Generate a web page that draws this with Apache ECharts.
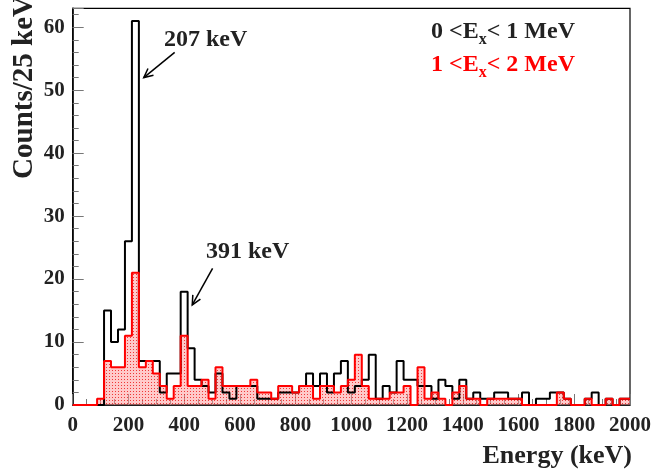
<!DOCTYPE html>
<html><head><meta charset="utf-8">
<script src="https://cdn.jsdelivr.net/npm/echarts@6/dist/echarts.min.js"></script>
<style>html,body{margin:0;padding:0;background:#fff}#c{width:654px;height:474px}</style>
</head><body><div id="c"></div>
<script>
// Bin centres (keV), 25 keV bins
const binCenters = [0,25,50,75,100,125,150,175,200,225,250,275,300,325,350,375,400,425,450,475,
  500,525,550,575,600,625,650,675,700,725,750,775,800,825,850,875,900,925,950,975,
  1000,1025,1050,1075,1100,1125,1150,1175,1200,1225,1250,1275,1300,1325,1350,1375,1400,1425,1450,1475,
  1500,1525,1550,1575,1600,1625,1650,1675,1700,1725,1750,1775,1800,1825,1850,1875,1900,1925,1950,1975,2000];
// 0 < Ex < 1 MeV
const countsEx01 = [0,0,0,0,0,15,10,12,26,61, 7,7,7,2,5,5,18,9,4,3, 2,5,2,1,3,3,3,1,1,1,
  2,2,2,3,5,3,5,2,5,7, 2,3,4,8,1,3,2,7,4,4, 3,3,1,4,3,1,4,1,2,1, 1,2,2,1,1,2,0,1,1,2,
  2,1,0,0,1,2,0,1,0,1, 1];
// 1 < Ex < 2 MeV
const countsEx12 = [0,0,0,0,1,7,6,6,11,21, 6,7,5,3,1,3,11,3,3,4, 1,6,3,3,3,3,4,2,2,1,
  3,3,2,3,3,1,3,3,2,3, 4,8,3,1,1,1,2,2,3,0, 6,1,2,1,0,2,3,1,1,0, 1,1,1,1,1,0,0,0,0,0,
  2,1,0,0,1,0,0,1,0,1, 1];
const xTickLabels = [0,200,400,600,800,1000,1200,1400,1600,1800,2000];
const yTickLabels = [0,10,20,30,40,50,60];
// Peak annotations: label, arrow tail [keV, counts], arrow head [keV, counts]
const annotations = [
  {label:'207 keV', tail:[366,56], head:[255,52]},
  {label:'391 keV', tail:[502,21.7], head:[429,15.9]}
];

const FONT = '"Liberation Serif","Times New Roman",serif';
const pairs = arr => binCenters.map((c,i)=>[c, arr[i]]);

// dotted pink fill pattern
const pc = document.createElement('canvas'); pc.width = 3; pc.height = 3;
const pctx = pc.getContext('2d');
pctx.fillStyle = 'rgba(255,150,150,0.5)'; pctx.fillRect(0,0,3,3);
pctx.fillStyle = 'rgba(235,20,20,0.8)'; pctx.fillRect(1,1,1,1);

const chart = echarts.init(document.getElementById('c'), null, {renderer:'canvas'});
const lab = {fontFamily:FONT, fontWeight:'bold', fontSize:21, color:'#222'};
const option = {
  animation:false,
  grid:{left:72.7, right:21.7, top:8.3, bottom:69, show:true, borderColor:'#000', borderWidth:1.2},
  xAxis:[
    {type:'value', min:0, max:2000, interval:200,
     axisLine:{show:true, onZero:false, lineStyle:{color:'#000', width:1.5}},
     axisTick:{show:true, inside:true, length:11, lineStyle:{color:'#777', width:1}},
     axisLabel:Object.assign({margin:10, formatter:v=>xTickLabels.includes(v)?String(v):''}, lab),
     splitLine:{show:false}},
    {type:'value', min:0, max:2000, interval:50, position:'bottom',
     axisLine:{show:false}, axisLabel:{show:false}, splitLine:{show:false},
     axisTick:{show:true, inside:true, length:6, lineStyle:{color:'#777', width:1}}}
  ],
  yAxis:[
    {type:'value', min:0, max:63, interval:10,
     axisLine:{show:true, onZero:false, lineStyle:{color:'#000', width:1.5}},
     axisTick:{show:true, inside:true, length:11, lineStyle:{color:'#777', width:1}},
     axisLabel:Object.assign({margin:8, padding:[5,0,0,0], formatter:v=>yTickLabels.includes(v)?String(v):''}, lab),
     splitLine:{show:false}},
    {type:'value', min:0, max:63, interval:2, position:'left',
     axisLine:{show:false}, axisLabel:{show:false}, splitLine:{show:false},
     axisTick:{show:true, inside:true, length:6, lineStyle:{color:'#777', width:1}}}
  ],
  series:[
    {name:'1 < Ex < 2 MeV fill', type:'line', step:'middle', data:pairs(countsEx12), symbol:'none',
     lineStyle:{width:0, opacity:0}, areaStyle:{color:{image:pc, repeat:'repeat'}, opacity:1}, z:1},
    {name:'0 < Ex < 1 MeV', type:'line', step:'middle', data:pairs(countsEx01), symbol:'none',
     lineStyle:{color:'#000', width:2}, z:2},
    {name:'1 < Ex < 2 MeV', type:'line', step:'middle', data:pairs(countsEx12), symbol:'none',
     lineStyle:{color:'#ff0000', width:2}, z:3}
  ]
};
chart.setOption(option);

// annotations and legend text
const g = [];
const meas = document.createElement('canvas').getContext('2d');
function tw(t, size){ meas.font = 'bold '+size+'px '+FONT; return meas.measureText(t).width; }
const labelPos = [[164,40],[206,252]];
annotations.forEach((a,i)=>{
  const p0 = chart.convertToPixel({gridIndex:0}, a.tail);
  const p1 = chart.convertToPixel({gridIndex:0}, a.head);
  const ang = Math.atan2(p1[1]-p0[1], p1[0]-p0[0]);
  const L = 10, sp = 0.45;
  g.push({type:'line', shape:{x1:p0[0],y1:p0[1],x2:p1[0],y2:p1[1]}, style:{stroke:'#000', lineWidth:1.5}, z:10});
  g.push({type:'polyline', shape:{points:[
    [p1[0]-L*Math.cos(ang-sp), p1[1]-L*Math.sin(ang-sp)], p1,
    [p1[0]-L*Math.cos(ang+sp), p1[1]-L*Math.sin(ang+sp)]]}, style:{stroke:'#000', lineWidth:1.5, fill:null}, z:10});
  g.push({type:'text', x:labelPos[i][0], y:labelPos[i][1], style:{text:a.label, font:'bold 24px '+FONT, fill:'#222', align:'left', verticalAlign:'middle'}, z:10});
});
// legend-like labels with subscript
function exLabel(x, y, lo, hi, color){
  const s1 = lo+' <E', s3 = '< '+hi+' MeV';
  const w1 = tw(s1,24), w2 = tw('x',16);
  g.push({type:'text', x:x, y:y, style:{text:s1, font:'bold 24px '+FONT, fill:color, verticalAlign:'middle'}, z:10});
  g.push({type:'text', x:x+w1, y:y+8, style:{text:'x', font:'bold 16px '+FONT, fill:color, verticalAlign:'middle'}, z:10});
  g.push({type:'text', x:x+w1+w2, y:y, style:{text:s3, font:'bold 24px '+FONT, fill:color, verticalAlign:'middle'}, z:10});
}
exLabel(431, 32, '0', '1', '#222');
exLabel(431, 64.5, '1', '2', '#ff0000');
// axis titles
g.push({type:'text', x:632, y:456, style:{text:'Energy (keV)', font:'bold 26px '+FONT, fill:'#222', align:'right', verticalAlign:'middle'}, z:10});
g.push({type:'text', x:25, y:-4, rotation:Math.PI/2, style:{text:'Counts/25 keV', font:'bold 29px '+FONT, fill:'#222', align:'right', verticalAlign:'middle'}, z:10});
chart.setOption({graphic:g});
</script></body></html>
